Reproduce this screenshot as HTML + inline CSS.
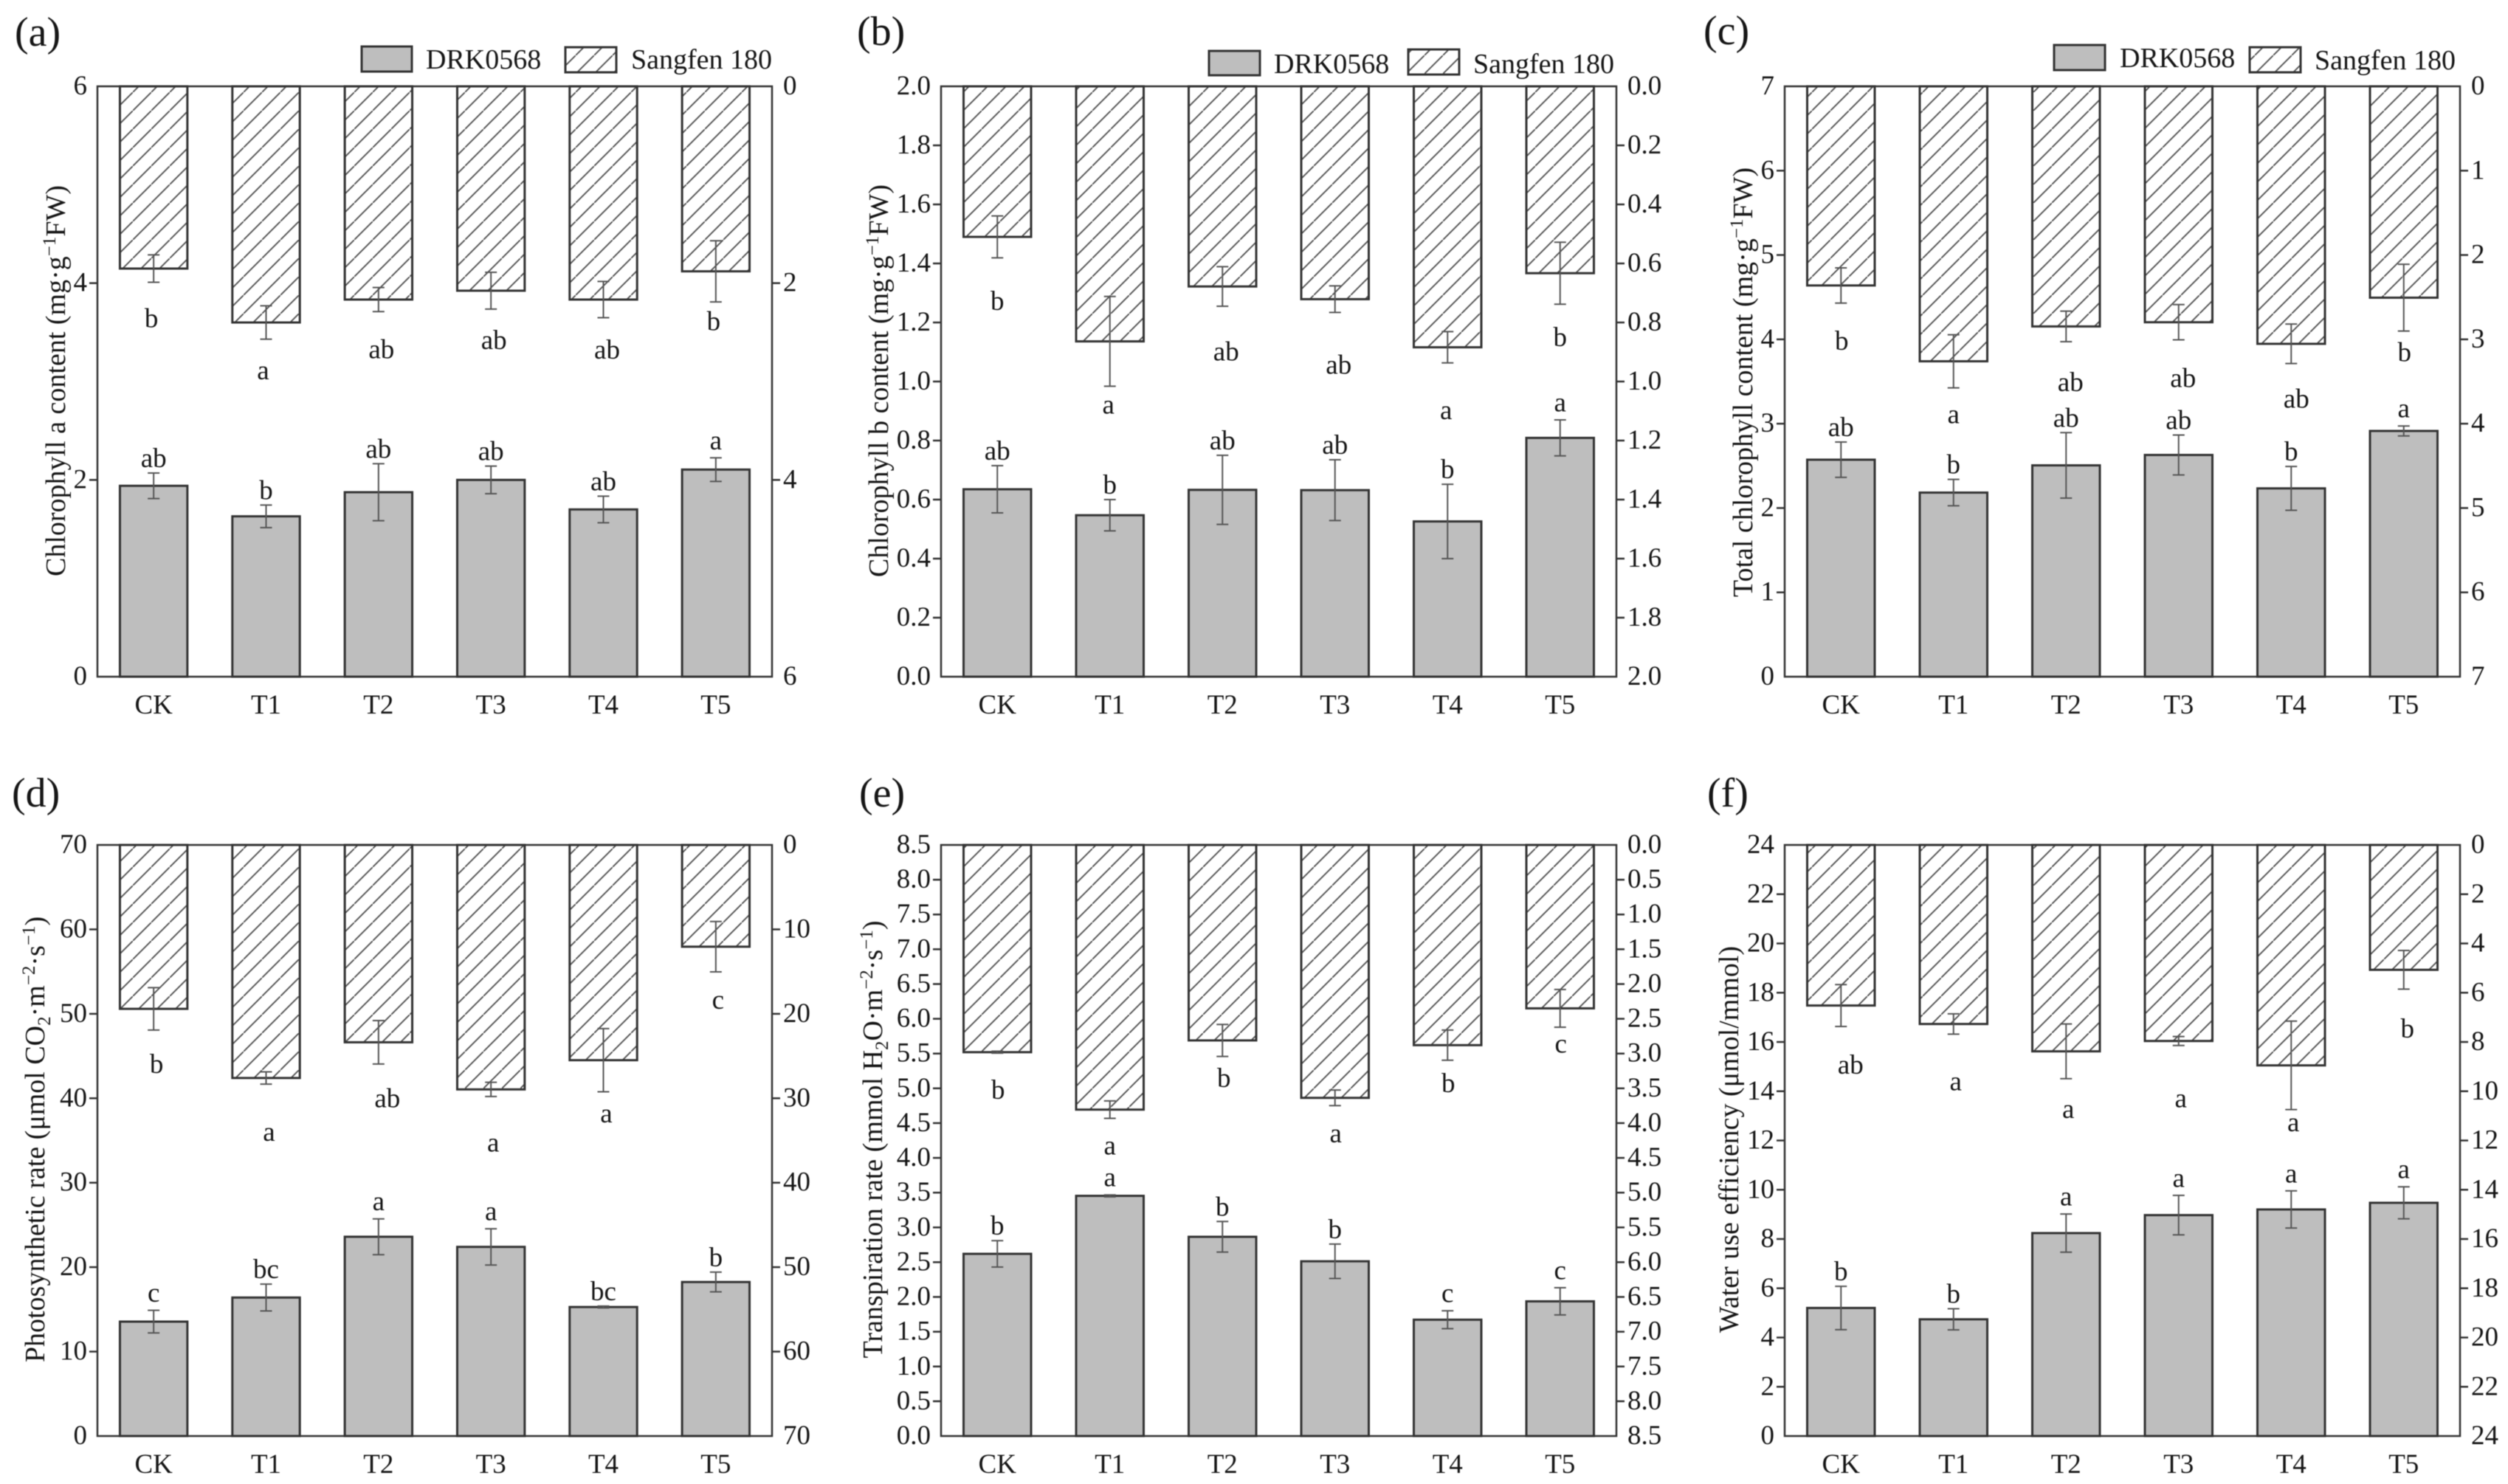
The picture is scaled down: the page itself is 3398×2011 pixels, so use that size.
<!DOCTYPE html>
<html lang="en">
<head>
<meta charset="utf-8">
<title>Chlorophyll and gas exchange of DRK0568 and Sangfen 180</title>
<style>
html,body{margin:0;padding:0;background:#fff;}
svg{display:block;filter:blur(0.6px);}
text{font-family:"Liberation Serif","Times New Roman",serif;fill:#161616;font-size:37px;}
.panel-label{font-size:56px;}
.legend-text{font-size:38px;}
.y-title{font-size:38px;text-anchor:middle;}
</style>
</head>
<body>
<svg id="figure" xmlns="http://www.w3.org/2000/svg" width="3398" height="2011" viewBox="0 0 3398 2011">
  <defs>
    <pattern id="hatch" patternUnits="userSpaceOnUse" width="25" height="25" patternTransform="translate(5,0)">
      <rect width="25" height="25" fill="#fff"/>
      <path d="M-5,30 L30,-5" stroke="#555" stroke-width="1.9" fill="none"/>
    </pattern>
  </defs>
  <rect width="3398" height="2011" fill="#fff"/>

  <g id="panel-a">
    <text class="panel-label" x="20" y="62">(a)</text>
    <text class="y-title" transform="translate(88,516) rotate(-90)">Chlorophyll a content (mg·g<tspan font-size="25" dy="-13">−1</tspan><tspan dy="13">FW)</tspan></text>
    <g>
      <rect x="490" y="63" width="68" height="34" fill="#bebebe" stroke="#333" stroke-width="3"/>
      <text class="legend-text" x="577" y="93">DRK0568</text>
      <rect x="766" y="64" width="69" height="34" fill="url(#hatch)" stroke="#333" stroke-width="3"/>
      <text class="legend-text" x="855" y="93">Sangfen 180</text>
    </g>
  </g>

  <g id="panel-b">
    <text class="panel-label" x="1161" y="61">(b)</text>
    <text class="y-title" transform="translate(1203,516) rotate(-90)">Chlorophyll b content (mg·g<tspan font-size="25" dy="-13">−1</tspan><tspan dy="13">FW)</tspan></text>
    <g>
      <rect x="1638" y="69" width="69" height="33" fill="#bebebe" stroke="#333" stroke-width="3"/>
      <text class="legend-text" x="1726" y="99">DRK0568</text>
      <rect x="1908" y="67" width="69" height="34" fill="url(#hatch)" stroke="#333" stroke-width="3"/>
      <text class="legend-text" x="1996" y="99">Sangfen 180</text>
    </g>
  </g>

  <g id="panel-c">
    <text class="panel-label" x="2308" y="60">(c)</text>
    <text class="y-title" transform="translate(2374,518) rotate(-90)">Total chlorophyll content (mg·g<tspan font-size="25" dy="-13">−1</tspan><tspan dy="13">FW)</tspan></text>
    <g>
      <rect x="2783" y="61" width="69" height="34" fill="#bebebe" stroke="#333" stroke-width="3"/>
      <text class="legend-text" x="2872" y="91">DRK0568</text>
      <rect x="3048" y="64" width="69" height="34" fill="url(#hatch)" stroke="#333" stroke-width="3"/>
      <text class="legend-text" x="3136" y="94">Sangfen 180</text>
    </g>
  </g>

  <g id="panel-d">
    <text class="panel-label" x="16" y="1093">(d)</text>
    <text class="y-title" transform="translate(60,1544) rotate(-90)">Photosynthetic rate (μmol CO<tspan font-size="25" dy="8">2</tspan><tspan dy="-8">·m</tspan><tspan font-size="25" dy="-13">−2</tspan><tspan dy="13">·s</tspan><tspan font-size="25" dy="-13">−1</tspan><tspan dy="13">)</tspan></text>
  </g>

  <g id="panel-e">
    <text class="panel-label" x="1164" y="1093">(e)</text>
    <text class="y-title" transform="translate(1195,1544) rotate(-90)">Transpiration rate (mmol H<tspan font-size="25" dy="8">2</tspan><tspan dy="-8">O·m</tspan><tspan font-size="25" dy="-13">−2</tspan><tspan dy="13">·s</tspan><tspan font-size="25" dy="-13">−1</tspan><tspan dy="13">)</tspan></text>
  </g>

  <g id="panel-f">
    <text class="panel-label" x="2313" y="1093">(f)</text>
    <text class="y-title" transform="translate(2355,1544) rotate(-90)">Water use efficiency (μmol/mmol)</text>
  </g>
</svg>

<script>
const categories = ['CK', 'T1', 'T2', 'T3', 'T4', 'T5'];

// (a) Chlorophyll a
const aTicks = ['0', '2', '4', '6'];
const aDrk = [1.94, 1.63, 1.875, 2.0, 1.70, 2.105];
const aDrkErr = [0.13, 0.115, 0.29, 0.14, 0.135, 0.12];
const aDrkLetters = ['ab', 'b', 'ab', 'ab', 'ab', 'a'];
const aSang = [1.852, 2.40, 2.167, 2.077, 2.167, 1.88];
const aSangErr = [0.139, 0.17, 0.122, 0.187, 0.184, 0.311];
const aSangLetters = ['b', 'a', 'ab', 'ab', 'ab', 'b'];
const aSangLetterGap = [0.37, 0.35, 0.39, 0.32, 0.33, 0.20];

// (b) Chlorophyll b
const bTicks = ['0.0', '0.2', '0.4', '0.6', '0.8', '1.0', '1.2', '1.4', '1.6', '1.8', '2.0'];
const bDrk = [0.635, 0.547, 0.633, 0.632, 0.526, 0.809];
const bDrkErr = [0.08, 0.053, 0.117, 0.103, 0.126, 0.061];
const bDrkLetters = ['ab', 'b', 'ab', 'ab', 'b', 'a'];
const bSang = [0.51, 0.864, 0.678, 0.721, 0.884, 0.633];
const bSangErr = [0.071, 0.152, 0.067, 0.045, 0.053, 0.105];
const bSangLetters = ['b', 'a', 'ab', 'ab', 'a', 'b'];
const bSangLetterGap = [0.148, 0.073, 0.155, 0.179, 0.171, 0.113];

// (c) Total chlorophyll
const cTicks = ['0', '1', '2', '3', '4', '5', '6', '7'];
const cDrk = [2.573, 2.183, 2.506, 2.629, 2.233, 2.914];
const cDrkErr = [0.209, 0.156, 0.388, 0.237, 0.26, 0.059];
const cDrkLetters = ['ab', 'b', 'ab', 'ab', 'b', 'a'];
const cSang = [2.361, 3.26, 2.847, 2.797, 3.053, 2.506];
const cSangErr = [0.209, 0.315, 0.181, 0.209, 0.234, 0.396];
const cSangLetters = ['b', 'a', 'ab', 'ab', 'ab', 'b'];
const cSangLetterGap = [0.452, 0.352, 0.486, 0.458, 0.424, 0.257];

// (d) Photosynthetic rate
const dTicks = ['0', '10', '20', '30', '40', '50', '60', '70'];
const dDrk = [13.55, 16.4, 23.6, 22.4, 15.28, 18.24];
const dDrkErr = [1.34, 1.59, 2.12, 2.15, 0.11, 1.17];
const dDrkLetters = ['c', 'bc', 'a', 'a', 'bc', 'b'];
const dSang = [19.41, 27.6, 23.37, 28.95, 25.49, 12.05];
const dSangErr = [2.51, 0.73, 2.57, 0.84, 3.74, 2.98];
const dSangLetters = ['b', 'a', 'ab', 'a', 'a', 'c'];
const dSangLetterGap = [4.07, 6.02, 4.13, 5.86, 2.96, 3.68];

// (e) Transpiration rate
const eTicks = ['0.0', '0.5', '1.0', '1.5', '2.0', '2.5', '3.0', '3.5', '4.0', '4.5', '5.0', '5.5', '6.0', '6.5', '7.0', '7.5', '8.0', '8.5'];
const eDrk = [2.62, 3.454, 2.865, 2.513, 1.673, 1.937];
const eDrkErr = [0.19, 0.014, 0.22, 0.247, 0.129, 0.196];
const eDrkLetters = ['b', 'a', 'b', 'b', 'c', 'c'];
const eSang = [2.98, 3.806, 2.811, 3.637, 2.879, 2.35];
const eSangErr = [0.014, 0.125, 0.23, 0.112, 0.217, 0.271];
const eSangLetters = ['b', 'a', 'b', 'a', 'b', 'c'];
const eSangLetterGap = [0.535, 0.44, 0.318, 0.447, 0.339, 0.284];

// (f) Water use efficiency
const fTicks = ['0', '2', '4', '6', '8', '10', '12', '14', '16', '18', '20', '22', '24'];
const fDrk = [5.2, 4.74, 8.24, 8.97, 9.2, 9.47];
const fDrkErr = [0.88, 0.43, 0.774, 0.803, 0.755, 0.65];
const fDrkLetters = ['b', 'b', 'a', 'a', 'a', 'a'];
const fSang = [6.52, 7.27, 8.38, 7.96, 8.95, 5.07];
const fSangErr = [0.851, 0.411, 1.109, 0.182, 1.797, 0.784];
const fSangLetters = ['ab', 'a', 'a', 'a', 'a', 'b'];
const fSangLetterGap = [1.568, 2.05, 1.36, 2.275, 0.65, 1.625];

// Horizontal nudges of the hand-placed upper letters (layout, px)
const upperLetterNudges = {
  a: [-3, -4, 4, 4, 5, -3],
  b: [0, -2, 5, 5, -2, 0],
  c: [1, 0, 6, 6, 7, 1],
  d: [4, 4, 12, 3, 4, 3],
  e: [1, 0, 2, 1, 1, 1],
  f: [13, 3, 3, 3, 3, 5]
};

const SVG_NS = 'http://www.w3.org/2000/svg';
const INK = '#333';
const ERR_INK = '#555';
const TICK_LEN = 11;
const BAR_SHARE = 0.6;
const CAP_HALF = 8;

function make(parent, tag, attrs, text) {
  const node = document.createElementNS(SVG_NS, tag);
  for (const key in attrs) node.setAttribute(key, attrs[key]);
  if (text !== undefined) node.textContent = text;
  parent.appendChild(node);
  return node;
}

function hasAscender(letter) {
  return letter.indexOf('b') >= 0;
}

function drawPanel(p) {
  const root = document.getElementById('panel-' + p.id);
  const plotW = p.right - p.left;
  const plotH = p.bottom - p.top;
  const max = parseFloat(p.ticks[p.ticks.length - 1]);
  const pitch = plotW / categories.length;
  const barW = pitch * BAR_SHARE;

  const xCenter = i => p.left + (i + 0.5) * pitch;
  const yLeft = v => p.bottom - (v / max) * plotH;
  const yRight = v => p.top + (v / max) * plotH;

  categories.forEach((cat, i) => {
    const cx = xCenter(i);

    const lowerTop = yLeft(p.drk[i]);
    const lowerBar = make(root, 'rect', {
      x: cx - barW / 2, y: lowerTop, width: barW, height: p.bottom - lowerTop,
      fill: '#bebebe', stroke: INK, 'stroke-width': 3
    });
    
    

    const upperEnd = yRight(p.sang[i]);
    const upperBar = make(root, 'rect', {
      x: cx - barW / 2, y: p.top, width: barW, height: upperEnd - p.top,
      fill: 'url(#hatch)', stroke: INK, 'stroke-width': 3
    });
    
    

    const lowerHi = yLeft(p.drk[i] + p.drkErr[i]);
    const lowerLo = yLeft(p.drk[i] - p.drkErr[i]);
    const lowerErr = make(root, 'path', {
      d: 'M' + (cx - CAP_HALF) + ',' + lowerHi + 'H' + (cx + CAP_HALF) +
         'M' + cx + ',' + lowerHi + 'V' + lowerLo +
         'M' + (cx - CAP_HALF) + ',' + lowerLo + 'H' + (cx + CAP_HALF),
      stroke: ERR_INK, 'stroke-width': 2, fill: 'none'
    });
    
    

    const upperHi = yRight(p.sang[i] - p.sangErr[i]);
    const upperLo = yRight(p.sang[i] + p.sangErr[i]);
    const upperErr = make(root, 'path', {
      d: 'M' + (cx - CAP_HALF) + ',' + upperHi + 'H' + (cx + CAP_HALF) +
         'M' + cx + ',' + upperHi + 'V' + upperLo +
         'M' + (cx - CAP_HALF) + ',' + upperLo + 'H' + (cx + CAP_HALF),
      stroke: ERR_INK, 'stroke-width': 2, fill: 'none'
    });
    
    

    const lowerLetter = p.drkLetters[i];
    const lowerLabel = make(root, 'text', {
      x: cx, y: lowerHi - (hasAscender(lowerLetter) ? 8 : 11.5), 'text-anchor': 'middle'
    }, lowerLetter);
    
    

    const upperLetter = p.sangLetters[i];
    const upperCenter = yRight(p.sang[i] + p.sangErr[i] + p.sangGap[i]);
    const upperLabel = make(root, 'text', {
      x: cx + p.nudge[i],
      y: upperCenter + (hasAscender(upperLetter) ? 11.5 : 7.7),
      'text-anchor': 'middle'
    }, upperLetter);
    
    

    const catLabel = make(root, 'text', {
      x: cx, y: p.bottom + 50, 'text-anchor': 'middle'
    }, cat);
    
    
  });

  const frame = make(root, 'rect', {
    x: p.left, y: p.top, width: plotW, height: plotH,
    fill: 'none', stroke: INK, 'stroke-width': 2.5
  });
  
  

  p.ticks.forEach((label, i) => {
    const value = parseFloat(label);
    const yL = yLeft(value);
    const yR = yRight(value);
    const inner = i > 0 && i < p.ticks.length - 1;

    if (inner) {
      const leftTick = make(root, 'line', {
        x1: p.left - TICK_LEN, x2: p.left, y1: yL, y2: yL, stroke: INK, 'stroke-width': 2.5
      });
      
      

      const rightTick = make(root, 'line', {
        x1: p.right, x2: p.right + TICK_LEN, y1: yR, y2: yR, stroke: INK, 'stroke-width': 2.5
      });
      
      
    }

    const leftLabel = make(root, 'text', {
      x: p.left - 14, y: yL + 11, 'text-anchor': 'end'
    }, label);
    
    

    const rightLabel = make(root, 'text', {
      x: p.right + 15, y: yR + 11, 'text-anchor': 'start'
    }, label);
    
    
  });
}

drawPanel({ id: 'a', left: 132, right: 1046, top: 117, bottom: 917, ticks: aTicks,
  drk: aDrk, drkErr: aDrkErr, drkLetters: aDrkLetters, sang: aSang, sangErr: aSangErr,
  sangLetters: aSangLetters, sangGap: aSangLetterGap, nudge: upperLetterNudges.a });
drawPanel({ id: 'b', left: 1275, right: 2190, top: 117, bottom: 917, ticks: bTicks,
  drk: bDrk, drkErr: bDrkErr, drkLetters: bDrkLetters, sang: bSang, sangErr: bSangErr,
  sangLetters: bSangLetters, sangGap: bSangLetterGap, nudge: upperLetterNudges.b });
drawPanel({ id: 'c', left: 2418, right: 3333, top: 117, bottom: 917, ticks: cTicks,
  drk: cDrk, drkErr: cDrkErr, drkLetters: cDrkLetters, sang: cSang, sangErr: cSangErr,
  sangLetters: cSangLetters, sangGap: cSangLetterGap, nudge: upperLetterNudges.c });
drawPanel({ id: 'd', left: 132, right: 1046, top: 1145, bottom: 1946, ticks: dTicks,
  drk: dDrk, drkErr: dDrkErr, drkLetters: dDrkLetters, sang: dSang, sangErr: dSangErr,
  sangLetters: dSangLetters, sangGap: dSangLetterGap, nudge: upperLetterNudges.d });
drawPanel({ id: 'e', left: 1275, right: 2190, top: 1145, bottom: 1946, ticks: eTicks,
  drk: eDrk, drkErr: eDrkErr, drkLetters: eDrkLetters, sang: eSang, sangErr: eSangErr,
  sangLetters: eSangLetters, sangGap: eSangLetterGap, nudge: upperLetterNudges.e });
drawPanel({ id: 'f', left: 2418, right: 3333, top: 1145, bottom: 1946, ticks: fTicks,
  drk: fDrk, drkErr: fDrkErr, drkLetters: fDrkLetters, sang: fSang, sangErr: fSangErr,
  sangLetters: fSangLetters, sangGap: fSangLetterGap, nudge: upperLetterNudges.f });
</script>
</body>
</html>
